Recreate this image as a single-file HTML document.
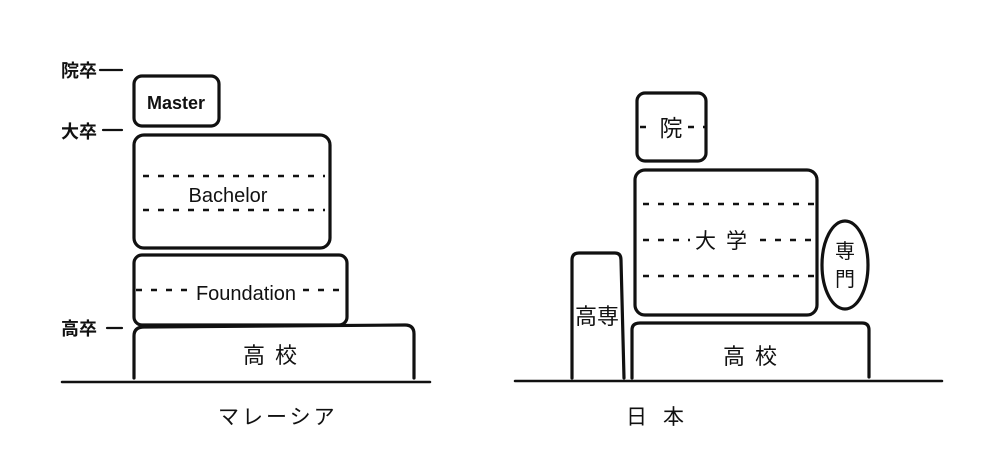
<!DOCTYPE html>
<html><head><meta charset="utf-8"><style>
html,body{margin:0;padding:0;background:#fff;}
svg{display:block;}
text{font-family:"Liberation Sans","Noto Sans CJK JP",sans-serif;fill:#111;}
</style></head><body>
<svg width="1000" height="474" viewBox="0 0 1000 474" xmlns="http://www.w3.org/2000/svg">
<g fill="none" stroke="#111" stroke-width="3.2" stroke-linecap="round">
<rect x="134" y="76" width="85" height="50" rx="8"/>
<rect x="134" y="135" width="196" height="113" rx="10"/>
<rect x="134" y="255" width="213" height="70" rx="8"/>
<path d="M134 378 V336 Q134 327 144 327 L405 325 Q414 325 414 334 V378"/>
<line x1="62" y1="382" x2="430" y2="382" stroke-width="2.5"/>
<line x1="100" y1="70" x2="122" y2="70" stroke-width="2.2"/>
<line x1="103" y1="130" x2="122" y2="130" stroke-width="2.2"/>
<line x1="107" y1="328" x2="122" y2="328" stroke-width="2.2"/>
<rect x="637" y="93" width="69" height="68" rx="8"/>
<rect x="635" y="170" width="182" height="145" rx="10"/>
<ellipse cx="845" cy="265" rx="23" ry="44"/>
<path d="M572 378 V260 Q572 253 579 253 L615 253 Q621 253 621 260 L624 378"/>
<path d="M632 378 V330 Q632 323 640 323 L862 323 Q869 323 869 330 V377"/>
<line x1="515" y1="381" x2="942" y2="381" stroke-width="2.5"/>
</g>
<g stroke="#111" stroke-width="2.5" stroke-dasharray="6 9" fill="none">
<line x1="143" y1="176" x2="325" y2="176"/>
<line x1="143" y1="210" x2="325" y2="210"/>
<line x1="136" y1="290" x2="190" y2="290"/>
<line x1="303" y1="290" x2="345" y2="290"/>
<line x1="640" y1="127" x2="652" y2="127"/>
<line x1="688" y1="127" x2="705" y2="127"/>
<line x1="643" y1="204" x2="815" y2="204"/>
<line x1="643" y1="240" x2="690" y2="240"/>
<line x1="760" y1="240" x2="815" y2="240"/>
<line x1="643" y1="276" x2="815" y2="276"/>
</g>
<g font-size="18" font-weight="bold">
<text x="61" y="77">院卒</text>
<text x="61" y="138">大卒</text>
<text x="61" y="335">高卒</text>
</g>
<g font-size="20">
<text x="176" y="109" text-anchor="middle" font-weight="bold" font-size="18">Master</text>
<text x="228" y="202" text-anchor="middle">Bachelor</text>
<text x="246" y="300" text-anchor="middle">Foundation</text>
<text x="275" y="363" text-anchor="middle" font-size="22" letter-spacing="10">高校</text>
<text x="671" y="136" text-anchor="middle" font-size="23">院</text>
<text x="726" y="248" text-anchor="middle" font-size="21" letter-spacing="10">大学</text>
<text x="845" y="258" text-anchor="middle" font-size="20">専</text>
<text x="845" y="286" text-anchor="middle" font-size="20">門</text>
<text x="597" y="324" text-anchor="middle" font-size="22">高専</text>
<text x="755" y="364" text-anchor="middle" font-size="22" letter-spacing="10">高校</text>
<text x="218" y="424" font-size="21" letter-spacing="3">マレーシア</text>
<text x="626" y="424" font-size="21" letter-spacing="16">日本</text>
</g>
</svg>
</body></html>
